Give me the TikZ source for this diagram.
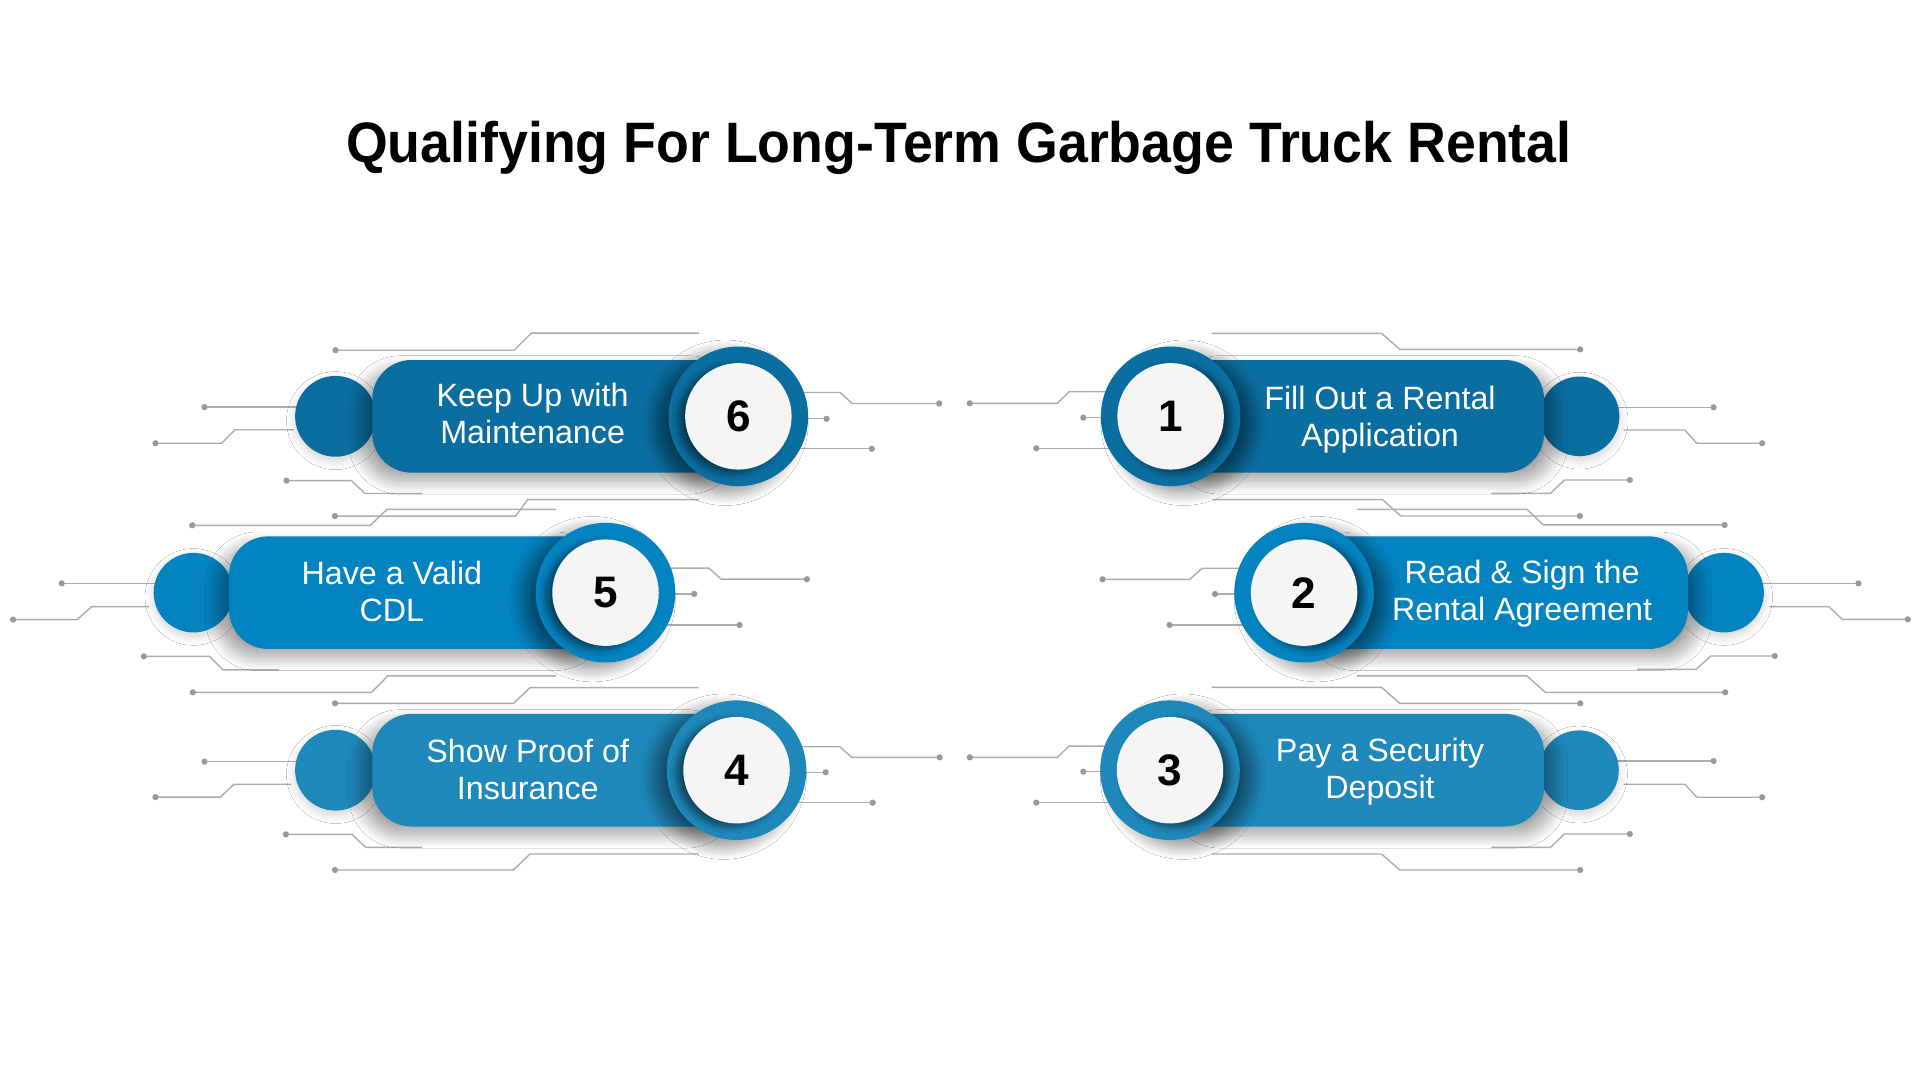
\documentclass[tikz,border=0pt]{standalone}
\usepackage{fontspec}
\usepackage{graphicx}
\setmainfont{Liberation Sans}
\usetikzlibrary{shadows.blur}
\definecolor{cA}{HTML}{0A6EA1}
\definecolor{cB}{HTML}{0483C1}
\definecolor{cC}{HTML}{1F88BB}
\definecolor{wirec}{HTML}{ADADAD}
\definecolor{dotc}{HTML}{9A9A9A}
\definecolor{numbg}{HTML}{F5F5F5}
\newcommand\wire[2]{\draw[wireline] #1 #2; \fill[dotc] #1 circle[radius=1.45pt];}
\tikzset{
  wireline/.style={draw=wirec, line width=0.65pt},
  knob/.style={circle, minimum size=1.3cm, inner sep=0pt, draw=none, fill=#1,
    blur shadow={shadow xshift=0pt, shadow yshift=-2pt, shadow blur radius=4pt, shadow blur steps=12, shadow opacity=18}},
  pillL/.style={rectangle, rounded corners=0.64cm, minimum height=1.84cm, inner sep=0pt, draw=none, fill=#1,
    blur shadow={shadow xshift=-5pt, shadow yshift=-4pt, shadow blur radius=6pt, shadow blur steps=14, shadow opacity=36}},
  pillR/.style={rectangle, rounded corners=0.64cm, minimum height=1.84cm, inner sep=0pt, draw=none, fill=#1,
    blur shadow={shadow xshift=5pt, shadow yshift=-4pt, shadow blur radius=6pt, shadow blur steps=14, shadow opacity=36}},
  ringL/.style={circle, minimum size=2.28cm, inner sep=0pt, draw=none, fill=#1,
    blur shadow={shadow xshift=-6pt, shadow yshift=-3pt, shadow blur radius=6pt, shadow blur steps=14, shadow opacity=45}},
  ringR/.style={circle, minimum size=2.28cm, inner sep=0pt, draw=none, fill=#1,
    blur shadow={shadow xshift=6pt, shadow yshift=-3pt, shadow blur radius=6pt, shadow blur steps=14, shadow opacity=45}},
  faceL/.style={circle, minimum size=1.74cm, inner sep=0pt, draw=none, fill=numbg,
    blur shadow={shadow xshift=-3pt, shadow yshift=-1.5pt, shadow blur radius=3pt, shadow blur steps=10, shadow opacity=50},
    font=\fontsize{20.5}{24}\selectfont\bfseries, text=black},
  faceR/.style={circle, minimum size=1.74cm, inner sep=0pt, draw=none, fill=numbg,
    blur shadow={shadow xshift=3pt, shadow yshift=-1.5pt, shadow blur radius=3pt, shadow blur steps=10, shadow opacity=50},
    font=\fontsize{20.5}{24}\selectfont\bfseries, text=black},
  label/.style={text=white, align=center, inner sep=0pt, font=\fontsize{15}{17}\selectfont},
}
\begin{document}
\begin{tikzpicture}[x=0.02cm, y=-0.02cm]
\fill[white] (0,0) rectangle (1568,882);
\useasboundingbox (0,0) rectangle (1568,882);

\node[anchor=base] (title) at (783,133) {\fontsize{26.5}{30}\selectfont\bfseries\scalebox{0.942}[1]{Qualifying For Long-Term Garbage Truck Rental}};

% ---- circuit lines, left side ----
\wire{(274,286)}{-- (420,286) -- (434,272) -- (571,272)}
\wire{(167,332.5)}{-- (250,332.5)}
\wire{(127,362)}{-- (181,362) -- (192,351) -- (240,351)}
\wire{(234,392.5)}{-- (287,392.5) -- (298,403) -- (345,403)}
\wire{(767,329.5)}{-- (696,329.5) -- (686,320.5) -- (650,320.5)}
\wire{(675,342)}{-- (650,342)}
\wire{(712,366.5)}{-- (650,366.5)}
\wire{(273.5,421.5)}{-- (421,421.5) -- (431,408) -- (571,408)}
\wire{(157,429)}{-- (302.5,429) -- (316,416) -- (454,416)}
\wire{(659,473)}{-- (589,473) -- (579,464) -- (540,464)}
\wire{(567,485)}{-- (540,485)}
\wire{(604,510.4)}{-- (540,510.4)}
\wire{(50.4,476.4)}{-- (135,476.4)}
\wire{(10.7,506)}{-- (63,506) -- (75,495.4) -- (122,495.4)}
\wire{(117.5,536)}{-- (171,536) -- (182,547) -- (228,547)}
\wire{(157.5,565.4)}{-- (303.5,565.4) -- (316.7,552) -- (454,552)}
\wire{(273.6,574.4)}{-- (419.3,574.4) -- (433,561.5) -- (570.5,561.5)}
\wire{(167,622)}{-- (250,622)}
\wire{(127,651)}{-- (180,651) -- (191,640.5) -- (238,640.5)}
\wire{(233.5,681.4)}{-- (287.7,681.4) -- (298.4,692) -- (344.5,692)}
\wire{(273.6,710.5)}{-- (419.3,710.5) -- (432.8,697.4) -- (570.5,697.4)}
\wire{(767.4,618.5)}{-- (695.6,618.5) -- (685.8,609.8) -- (650,609.8)}
\wire{(674.3,630.7)}{-- (650,630.7)}
\wire{(712.7,655.5)}{-- (650,655.5)}

% ---- circuit lines, right side ----
\wire{(1290.5,285.3)}{-- (1143.2,285.3) -- (1128.2,272.2) -- (989.4,272.2)}
\wire{(792,329.4)}{-- (863.4,329.4) -- (873.2,319.9) -- (910,319.9)}
\wire{(884.7,341.1)}{-- (910,341.1)}
\wire{(846.3,366.1)}{-- (910,366.1)}
\wire{(1399.4,332.6)}{-- (1312,332.6)}
\wire{(1439.1,362)}{-- (1385.7,362) -- (1375.9,351.2) -- (1326,351.2)}
\wire{(1331,392)}{-- (1277.6,392) -- (1266.2,402.9) -- (1217.9,402.9)}
\wire{(1290.2,421.4)}{-- (1144,421.4) -- (1129,408) -- (990,408)}
\wire{(1408.4,428.7)}{-- (1260.5,428.7) -- (1247,416) -- (1108,416)}
\wire{(900.4,473.1)}{-- (971.7,473.1) -- (981.7,464.1) -- (1020,464.1)}
\wire{(992.3,485.1)}{-- (1020,485.1)}
\wire{(955.1,510.4)}{-- (1020,510.4)}
\wire{(1517.7,476.4)}{-- (1430,476.4)}
\wire{(1558,505.8)}{-- (1504.5,505.8) -- (1493.6,495.4) -- (1445,495.4)}
\wire{(1449.4,535.7)}{-- (1397.3,535.7) -- (1385,546.6) -- (1337,546.6)}
\wire{(1408.9,565.4)}{-- (1262,565.4) -- (1247,552) -- (1108.2,552)}
\wire{(1290.5,574.4)}{-- (1143.2,574.4) -- (1128.2,561.3) -- (989.4,561.3)}
\wire{(792,618.5)}{-- (863.4,618.5) -- (873.2,609.3) -- (910,609.3)}
\wire{(884.7,630.2)}{-- (910,630.2)}
\wire{(846.3,655.5)}{-- (910,655.5)}
\wire{(1399.4,621.5)}{-- (1312,621.5)}
\wire{(1439.1,651.1)}{-- (1385.7,651.1) -- (1375.9,640.5) -- (1326,640.5)}
\wire{(1331,681.1)}{-- (1277.6,681.1) -- (1266.2,692) -- (1217.9,692)}
\wire{(1290.5,710.5)}{-- (1143.2,710.5) -- (1128.2,697.4) -- (989.4,697.4)}

% ---- card 6 ----
\node[knob=cA, minimum size=1.32cm] (k6) at (274,340) {};
\node[pillL=cA, minimum width=5.98cm] (p6) at (453.5,340) {};
\node[ringL=cA] (r6) at (603,340) {};
\node[faceL] (n6) at (603,340) {6};
\node[label] (t6) at (435,337.5) {Keep Up with\\Maintenance};

% ---- card 5 ----
\node[knob=cB] (k5) at (158,484) {};
\node[pillL=cB, minimum width=6.15cm] (p5) at (340.75,484) {};
\node[ringL=cB] (r5) at (494.5,484) {};
\node[faceL] (n5) at (494.5,484) {5};
\node[label] (t5) at (320,483) {Have a Valid\\CDL};

% ---- card 4 ----
\node[knob=cC, minimum size=1.32cm] (k4) at (274,629) {};
\node[pillL=cC, minimum width=5.95cm] (p4) at (452.75,629) {};
\node[ringL=cC] (r4) at (601.5,629) {};
\node[faceL] (n4) at (601.5,629) {4};
\node[label] (t4) at (431,628.5) {Show Proof of\\Insurance};

% ---- card 1 ----
\node[knob=cA] (k1) at (1290,340) {};
\node[pillR=cA, minimum width=6.1cm] (p1) at (1108.5,340) {};
\node[ringR=cA] (r1) at (956,340) {};
\node[faceR] (n1) at (956,340) {1};
\node[label] (t1) at (1127,342.5) {Fill Out a Rental\\Application};

% ---- card 2 ----
\node[knob=cB] (k2) at (1408,484) {};
\node[pillR=cB, minimum width=6.27cm] (p2) at (1221.75,484) {};
\node[ringR=cB] (r2) at (1065,484) {};
\node[faceR] (n2) at (1065,484) {2};
\node[label] (t2) at (1243,484.8) {Read \& Sign the\\Rental Agreement};

% ---- card 3 ----
\node[knob=cC] (k3) at (1289.5,629) {};
\node[pillR=cC, minimum width=6.11cm] (p3) at (1108.25,629) {};
\node[ringR=cC] (r3) at (955.5,629) {};
\node[faceR] (n3) at (955.5,629) {3};
\node[label] (t3) at (1127,630.3) {Pay a Security\\Deposit};
\end{tikzpicture}
\end{document}
